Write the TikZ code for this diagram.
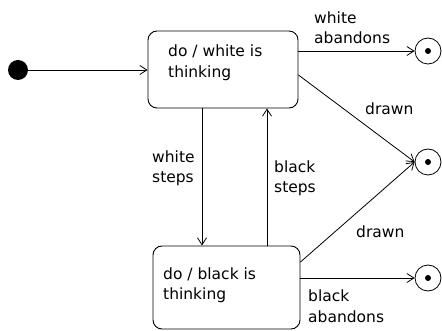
\documentclass[tikz,border=0pt]{standalone}
\usepackage{fontspec}
\setmainfont{DejaVu Sans}
\usetikzlibrary{arrows.meta}
\begin{document}
\begin{tikzpicture}[x=1pt,y=-1pt,
  statebox/.style={draw, line width=0.9pt, rounded corners=9pt, inner sep=0pt},
  txt/.style={font=\fontsize{15.5}{20.5}\selectfont, align=left, inner sep=0pt, anchor=base west},
  arr/.style={line width=0.8pt, -{Straight Barb[length=7pt,width=9pt,line width=0.8pt]}},
  initdot/.style={circle, fill=black, minimum size=20pt, inner sep=0pt},
  finring/.style={circle, draw, line width=0.8pt, minimum size=26pt, inner sep=0pt},
  findot/.style={circle, fill=black, minimum size=6pt, inner sep=0pt}]
\useasboundingbox (0,0) rectangle (442,331);
% initial
\node[initdot] (init) at (18,70) {};
% states
\node[statebox, minimum width=150pt, minimum height=77pt] (s1) at (223,69.5) {};
\node[statebox, minimum width=147pt, minimum height=83pt] (s2) at (226.5,287.5) {};
\node[txt] (t1) at (168,77.5) {do / white is\\thinking};
\node[txt] (t2) at (163,299.5) {do / black is\\thinking};
% finals
\node[finring] (f1) at (428,51) {};
\node[findot] (d1) at (f1) {};
\node[finring] (f2) at (428,162) {};
\node[findot] (d2) at (f2) {};
\node[finring] (f3) at (428,278) {};
\node[findot] (d3) at (f3) {};
% transitions
\draw[arr] (init) -- (init -| s1.west);
\draw[arr] (s1.east |- f1) -- (f1.west);
\draw[arr] ([yshift=-5.5pt]s1.east) -- (f2.west);
\draw[arr] ([yshift=25.5pt]s2.east) -- (f2.west);
\draw[arr] (s2.east |- f3) -- (f3.west);
\coordinate (ws) at ([xshift=-21pt]s1.south);
\coordinate (bs) at ([xshift=40.5pt]s2.north);
\draw[arr] (ws) -- (ws |- s2.north);
\draw[arr] (bs) -- (bs |- s1.south);
% labels
\node[txt] (l1) at (314,44) {white\\abandons};
\node[txt] (l2) at (365,115) {drawn};
\node[txt] (l3) at (356,238) {drawn};
\node[txt] (l4) at (308,322) {black\\abandons};
\node[txt] (l5) at (152,183) {white\\steps};
\node[txt] (l6) at (274,193) {black\\steps};
\end{tikzpicture}
\end{document}
